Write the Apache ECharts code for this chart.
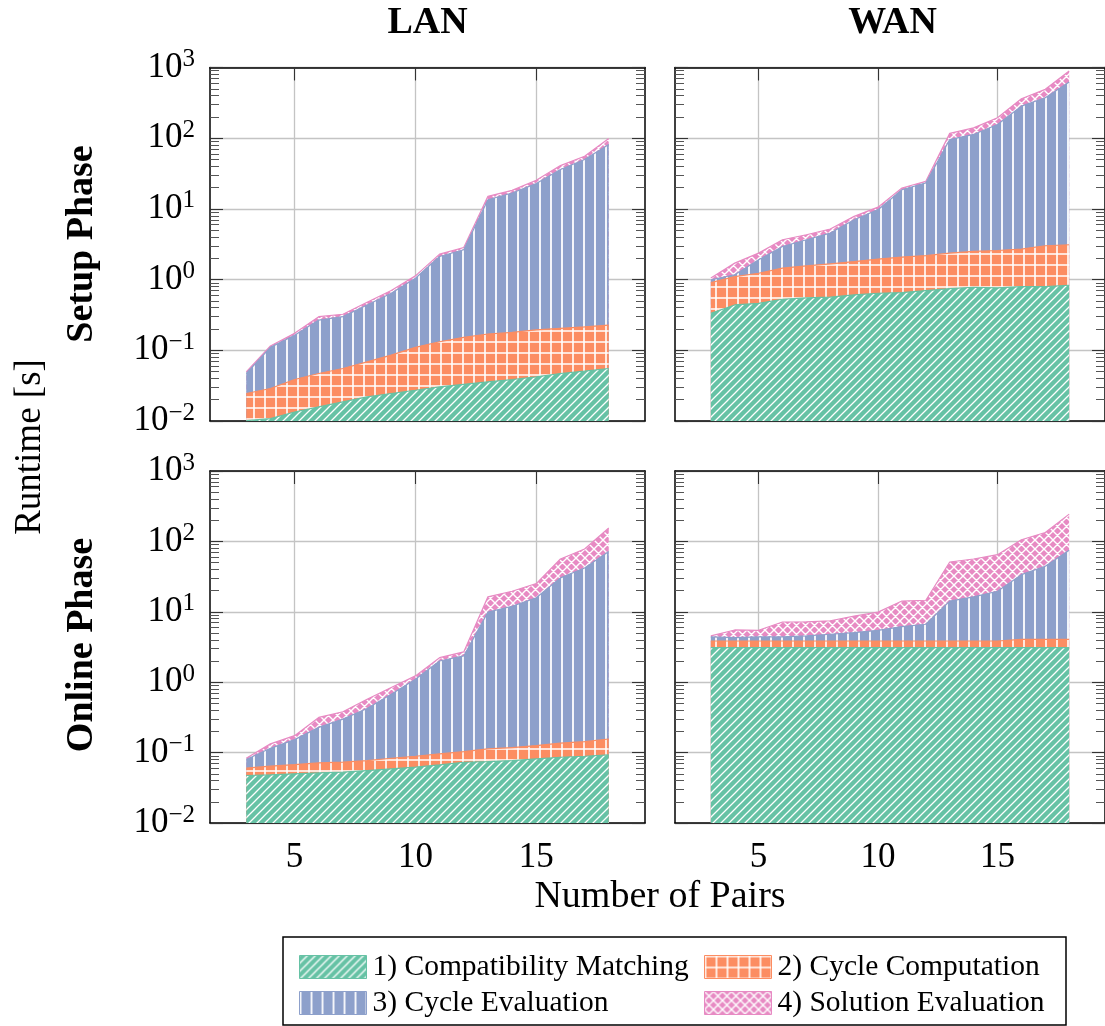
<!DOCTYPE html>
<html><head><meta charset="utf-8">
<script src="https://cdn.jsdelivr.net/npm/echarts@6/dist/echarts.min.js"></script>
<style>html,body{margin:0;padding:0;background:#fff}#c{width:1105px;height:1026px}</style>
</head><body><div id="c"></div>
<script>
// ---------------- data ----------------
const pairs = [3, 4, 5, 6, 7, 8, 9, 10, 11, 12, 13, 14, 15, 16, 17, 18];
const seriesNames = ['1) Compatibility Matching', '2) Cycle Computation', '3) Cycle Evaluation', '4) Solution Evaluation'];
const columnTitles = ['LAN', 'WAN'];
const rowTitles = ['Setup Phase', 'Online Phase'];
const xTickValues = [5, 10, 15];
const yAxisTitle = 'Runtime [s]';
const xAxisTitle = 'Number of Pairs';

// Setup phase, LAN (runtime per component, seconds)
const setupLanMatch   = [0.0101, 0.0108, 0.0134, 0.0158, 0.0186, 0.0219, 0.0245, 0.0272, 0.0303, 0.0330, 0.0357, 0.0386, 0.0420, 0.0470, 0.0507, 0.0553];
const setupLanCycComp = [0.0144, 0.0180, 0.0252, 0.0312, 0.0367, 0.0468, 0.0610, 0.0828, 0.1017, 0.1190, 0.1343, 0.1404, 0.1520, 0.1570, 0.1643, 0.1717];
const setupLanCycEval = [0.0225, 0.0812, 0.125, 0.221, 0.244, 0.368, 0.556, 0.937, 1.99, 2.49, 13.3, 16.6, 22.6, 35.8, 49.7, 81.3];
const setupLanSolEval = [0.0026, 0.005, 0.010, 0.031, 0.024, 0.041, 0.058, 0.083, 0.17, 0.20, 1.6, 1.5, 2.6, 5.0, 5.7, 17.7];

// Setup phase, WAN
const setupWanMatch   = [0.333, 0.438, 0.462, 0.527, 0.550, 0.565, 0.607, 0.641, 0.655, 0.698, 0.745, 0.780, 0.762, 0.796, 0.796, 0.832];
const setupWanCycComp = [0.573, 0.662, 0.768, 0.923, 1.01, 1.105, 1.193, 1.309, 1.425, 1.492, 1.625, 1.72, 1.818, 1.904, 2.214, 2.278];
const setupWanCycEval = [0.084, 0.07, 0.68, 1.49, 2.10, 2.88, 5.23, 7.80, 16.6, 21.1, 93.3, 110.5, 153.4, 281.3, 371, 618.9];
const setupWanSolEval = [0.06, 0.54, 0.46, 0.72, 0.65, 0.64, 0.81, 0.85, 1.1, 1.3, 21.3, 27, 39, 78, 117, 269];

// Online phase, LAN
const onlineLanMatch   = [0.0473, 0.0483, 0.0499, 0.0515, 0.0527, 0.0556, 0.0587, 0.0620, 0.0668, 0.0729, 0.0746, 0.0771, 0.0813, 0.0859, 0.0888, 0.0927];
const onlineLanCycComp = [0.0127, 0.0158, 0.0177, 0.0199, 0.0203, 0.0214, 0.0245, 0.0268, 0.0289, 0.0301, 0.0384, 0.0409, 0.0447, 0.0501, 0.0542, 0.0633];
const onlineLanCycEval = [0.0196, 0.0509, 0.0854, 0.1566, 0.226, 0.347, 0.593, 1.011, 1.904, 2.257, 9.777, 11.88, 15.67, 30.16, 41.76, 71.94];
const onlineLanSolEval = [0.0036, 0.018, 0.021, 0.088, 0.081, 0.150, 0.165, 0.13, 0.23, 0.33, 6.41, 7.6, 9.4, 25.9, 36.0, 82.9];

// Online phase, WAN
const onlineWanMatch   = [3.10, 3.10, 3.10, 3.10, 3.10, 3.10, 3.10, 3.10, 3.10, 3.10, 3.10, 3.10, 3.10, 3.10, 3.10, 3.10];
const onlineWanCycComp = [0.75, 0.75, 0.75, 0.75, 0.75, 0.75, 0.75, 0.75, 0.75, 0.75, 0.75, 0.75, 0.75, 0.97, 0.97, 0.97];
const onlineWanCycEval = [0.54, 0.45, 0.54, 0.54, 0.69, 0.95, 1.22, 1.61, 2.31, 2.80, 10.35, 12.45, 15.75, 29.63, 40.23, 70.53];
const onlineWanSolEval = [0.15, 1.22, 1.07, 2.77, 2.67, 2.66, 3.62, 4.43, 8.04, 7.95, 36.8, 39.9, 45.2, 71.9, 89.7, 169.4];

// ---------------- style ----------------
const FONT = "'Liberation Serif', 'DejaVu Serif', serif";
const solid = ['#66c2a5', '#fc8d62', '#8da0cb', '#e78ac3'];

function makePattern(bg, size, lw, draw) {
  const c = document.createElement('canvas');
  c.width = size; c.height = size;
  const ctx = c.getContext('2d');
  ctx.fillStyle = bg; ctx.fillRect(0, 0, size, size);
  ctx.strokeStyle = '#ffffff'; ctx.lineWidth = lw; ctx.lineCap = 'square';
  ctx.beginPath(); draw(ctx, size); ctx.stroke();
  return { image: c, repeat: 'repeat' };
}
const patterns = [
  makePattern(solid[0], 8, 1.3, (ctx, s) => { for (const k of [-1, 0, 1]) { ctx.moveTo(k * s, s); ctx.lineTo(k * s + s, 0); } }),
  makePattern(solid[1], 11, 1.6, (ctx, s) => { ctx.moveTo(1, 0); ctx.lineTo(1, s); ctx.moveTo(0, 1); ctx.lineTo(s, 1); }),
  makePattern(solid[2], 11, 1.8, (ctx, s) => { ctx.moveTo(1, 0); ctx.lineTo(1, s); }),
  makePattern(solid[3], 9, 1.4, (ctx, s) => { for (const k of [-1, 0, 1]) { ctx.moveTo(k * s, s); ctx.lineTo(k * s + s, 0); ctx.moveTo(k * s, 0); ctx.lineTo(k * s + s, s); } })
];

const panels = [
  { grid: { left: 210, top: 67.5, width: 435, height: 353.5 }, values: [setupLanMatch, setupLanCycComp, setupLanCycEval, setupLanSolEval], xLab: false, yLab: true },
  { grid: { left: 675, top: 67.5, width: 435, height: 353.5 }, values: [setupWanMatch, setupWanCycComp, setupWanCycEval, setupWanSolEval], xLab: false, yLab: false },
  { grid: { left: 210, top: 471, width: 435, height: 352 }, values: [onlineLanMatch, onlineLanCycComp, onlineLanCycEval, onlineLanSolEval], xLab: true, yLab: true },
  { grid: { left: 675, top: 471, width: 435, height: 352 }, values: [onlineWanMatch, onlineWanCycComp, onlineWanCycEval, onlineWanSolEval], xLab: true, yLab: false }
];

const minorTicks = [];
for (let e = -2; e <= 2; e++) for (let m = 2; m <= 9; m++) minorTicks.push(Number((m * Math.pow(10, e)).toPrecision(3)));

const YMIN = 0.01, YMAX = 1000, XMIN = 1.5, XMAX = 19.5;
const gridLine = { show: true, lineStyle: { color: '#c4c4c4', width: 1.3 } };
const frameLine = { show: true, lineStyle: { color: '#000', width: 1.5 } };

function supFmt(v) {
  const e = Math.round(Math.log10(v));
  return '10{e|' + (e < 0 ? '\u2212' + (-e) : String(e)) + '}';
}

const option = { animation: false, backgroundColor: '#fff', grid: [], xAxis: [], yAxis: [], series: [], legend: [], graphic: [] };

panels.forEach((p, i) => {
  option.grid.push(Object.assign({ show: false }, p.grid));
  option.xAxis.push({
    gridIndex: i, type: 'value', min: XMIN, max: XMAX, position: 'bottom',
    axisLine: frameLine,
    axisTick: { show: true, inside: true, length: 13, customValues: xTickValues, lineStyle: { color: '#333', width: 1.1 } },
    axisLabel: { show: p.xLab, customValues: xTickValues, margin: 17, fontSize: 35, fontFamily: FONT, color: '#000' },
    splitLine: gridLine
  });
  option.xAxis.push({
    gridIndex: i, type: 'value', min: XMIN, max: XMAX, position: 'top',
    axisLine: frameLine,
    axisTick: { show: true, inside: true, length: 13, customValues: xTickValues, lineStyle: { color: '#333', width: 1.1 } },
    axisLabel: { show: false }, splitLine: { show: false }
  });
  const yBase = { gridIndex: i, type: 'log', logBase: 10, min: YMIN, max: YMAX };
  option.yAxis.push(Object.assign({}, yBase, {
    position: 'left', axisLine: frameLine,
    axisTick: { show: true, inside: true, length: 13, lineStyle: { color: '#333', width: 1.1 } },
    axisLabel: {
      show: p.yLab, margin: 15, formatter: supFmt, color: '#000',
      fontSize: 35, fontFamily: FONT,
      rich: { e: { fontSize: 25, fontFamily: FONT, color: '#000', verticalAlign: 'top', padding: [0, 0, 16, 0] } }
    },
    splitLine: gridLine
  }));
  option.yAxis.push(Object.assign({}, yBase, {
    position: 'right', axisLine: frameLine,
    axisTick: { show: true, inside: true, length: 13, lineStyle: { color: '#333', width: 1.1 } },
    axisLabel: { show: false }, splitLine: { show: false }
  }));
  ['left', 'right'].forEach(pos => option.yAxis.push(Object.assign({}, yBase, {
    position: pos, axisLine: { show: false },
    axisTick: { show: true, inside: true, length: 9, customValues: minorTicks, lineStyle: { color: '#555', width: 1 } },
    axisLabel: { show: false }, splitLine: { show: false }
  })));

  // cumulative totals (stacked areas); topmost layer drawn first, lower layers painted over it
  const cum = [];
  p.values.forEach((vals, k) => cum.push(vals.map((v, j) => v + (k ? cum[k - 1][j] : 0))));
  for (let k = 3; k >= 0; k--) {
    option.series.push({
      type: 'line', name: seriesNames[k], xAxisIndex: 2 * i, yAxisIndex: 4 * i,
      symbol: 'none', showSymbol: false,
      data: pairs.map((x, j) => [x, cum[k][j]]),
      lineStyle: { color: solid[k], width: 1.2 },
      itemStyle: { color: solid[k] },
      areaStyle: { color: patterns[k], opacity: 1, origin: YMIN },
      emphasis: { disabled: true }, z: 2 + (3 - k) * 0.01
    });
  }
});

const legendPos = [[294, 947], [699, 947], [294, 983], [699, 983]];
seriesNames.forEach((n, k) => {
  option.legend.push({
    data: [{ name: n, icon: 'rect', itemStyle: { color: patterns[k], borderColor: solid[k], borderWidth: 1 } }],
    left: legendPos[k][0], top: legendPos[k][1], itemWidth: 67, itemHeight: 23, selectedMode: false,
    textStyle: { fontSize: 29.5, fontFamily: FONT, color: '#000', padding: [0, 0, 0, 1] }
  });
});

option.graphic = [
  { type: 'rect', shape: { x: 283, y: 937, width: 783, height: 88 }, style: { fill: 'none', stroke: '#000', lineWidth: 1.5 }, silent: true, z: 10 },
  { type: 'text', x: 427.5, y: 23, style: { text: columnTitles[0], font: 'bold 38px ' + FONT, fill: '#000', textAlign: 'center', textVerticalAlign: 'middle' } },
  { type: 'text', x: 892.5, y: 23, style: { text: columnTitles[1], font: 'bold 38px ' + FONT, fill: '#000', textAlign: 'center', textVerticalAlign: 'middle' } },
  { type: 'text', x: 82, y: 244, rotation: Math.PI / 2, style: { text: rowTitles[0], font: 'bold 38px ' + FONT, fill: '#000', textAlign: 'center', textVerticalAlign: 'middle' } },
  { type: 'text', x: 82, y: 645, rotation: Math.PI / 2, style: { text: rowTitles[1], font: 'bold 38px ' + FONT, fill: '#000', textAlign: 'center', textVerticalAlign: 'middle' } },
  { type: 'text', x: 30, y: 447, rotation: Math.PI / 2, style: { text: yAxisTitle, font: '37px ' + FONT, fill: '#000', textAlign: 'center', textVerticalAlign: 'middle' } },
  { type: 'text', x: 660, y: 897, style: { text: xAxisTitle, font: '38px ' + FONT, fill: '#000', textAlign: 'center', textVerticalAlign: 'middle' } }
];

const chart = echarts.init(document.getElementById('c'), null, { renderer: 'canvas' });
chart.setOption(option);
</script></body></html>
